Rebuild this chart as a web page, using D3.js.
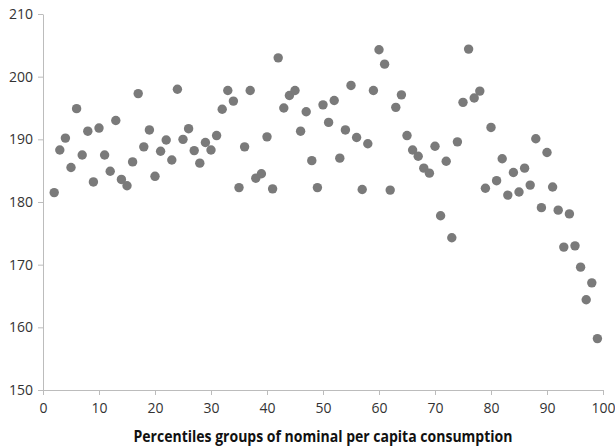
<!DOCTYPE html>
<meta charset="utf-8">
<script src="https://d3js.org/d3.v7.min.js"></script>
<style>
  body { margin: 0; background: #fff; }
  text { font-family: "Open Sans", "Liberation Sans", sans-serif; }
</style>
<div id="chart"></div>
<script>

// percentile groups (x) and values (y)
const percentiles = [2, 3, 4, 5, 6, 7, 8, 9, 10, 11, 12, 13, 14, 15, 16, 17, 18, 19, 20,
  21, 22, 23, 24, 25, 26, 27, 28, 29, 30, 31, 32, 33, 34, 35, 36, 37, 38, 39, 40,
  41, 42, 43, 44, 45, 46, 47, 48, 49, 50, 51, 52, 53, 54, 55, 56, 57, 58, 59, 60,
  61, 62, 63, 64, 65, 66, 67, 68, 69, 70, 71, 72, 73, 74, 75, 76, 77, 78, 79, 80,
  81, 82, 83, 84, 85, 86, 87, 88, 89, 90, 91, 92, 93, 94, 95, 96, 97, 98, 99];
const values = [181.5, 188.3, 190.2, 185.5, 194.9, 187.5, 191.3, 183.2, 191.8, 187.5,
  184.9, 193.0, 183.6, 182.6, 186.4, 197.3, 188.8, 191.5, 184.1, 188.1,
  189.9, 186.7, 198.0, 190.0, 191.7, 188.2, 186.2, 189.5, 188.3, 190.6,
  194.8, 197.8, 196.1, 182.3, 188.8, 197.8, 183.8, 184.5, 190.4, 182.1,
  203.0, 195.0, 197.0, 197.8, 191.3, 194.4, 186.6, 182.3, 195.5, 192.7,
  196.2, 187.0, 191.5, 198.6, 190.3, 182.0, 189.3, 197.8, 204.3, 202.0,
  181.9, 195.1, 197.1, 190.6, 188.3, 187.3, 185.4, 184.6, 188.9, 177.8,
  186.5, 174.3, 189.6, 195.9, 204.4, 196.6, 197.7, 182.2, 191.9, 183.4,
  186.9, 181.1, 184.7, 181.6, 185.4, 182.7, 190.1, 179.1, 187.9, 182.4,
  178.7, 172.8, 178.1, 173.0, 169.6, 164.4, 167.1, 158.2];
const xTicks = [0, 10, 20, 30, 40, 50, 60, 70, 80, 90, 100];
const yTicks = [150, 160, 170, 180, 190, 200, 210];

const data = percentiles.map((p, i) => ({x: p, y: values[i]}));

const margin = {top: 14, right: 12, bottom: 58, left: 43},
    width = 615 - margin.left - margin.right,
    height = 448 - margin.top - margin.bottom;

const svg = d3.select("#chart")
  .append("svg")
    .attr("width", 615)
    .attr("height", 448)
  .append("g")
    .attr("transform", `translate(${margin.left},${margin.top})`);

const x = d3.scaleLinear().domain([0, 100]).range([0, width]);
const y = d3.scaleLinear().domain([150, 210]).range([height, 0]);

// x axis
const xAxis = svg.append("g")
  .attr("transform", `translate(0,${height})`)
  .call(d3.axisBottom(x).tickValues(xTicks).tickSize(5).tickPadding(8).tickSizeOuter(0));

// y axis
const yAxis = svg.append("g")
  .call(d3.axisLeft(y).tickValues(yTicks).tickSize(5).tickPadding(5).tickSizeOuter(0));

[xAxis, yAxis].forEach(a => {
  a.select(".domain").attr("stroke", "#bcbcbc");
  a.selectAll(".tick line").attr("stroke", "#bcbcbc");
  a.selectAll(".tick text")
    .attr("fill", "#333")
    .attr("font-size", 14)
    .attr("font-family", "'Open Sans', sans-serif");
});

// points
svg.append("g")
  .selectAll("circle")
  .data(data)
  .join("circle")
    .attr("cx", d => x(d.x))
    .attr("cy", d => y(d.y))
    .attr("r", 4.7)
    .attr("fill", "#7a7a7a");

// axis title
svg.append("text")
  .attr("x", width / 2)
  .attr("y", height + 52)
  .attr("text-anchor", "middle")
  .attr("font-weight", "bold")
  .attr("font-size", 15.5)
  .attr("textLength", 379)
  .attr("lengthAdjust", "spacingAndGlyphs")
  .attr("fill", "#111")
  .text("Percentiles groups of nominal per capita consumption");

</script>
